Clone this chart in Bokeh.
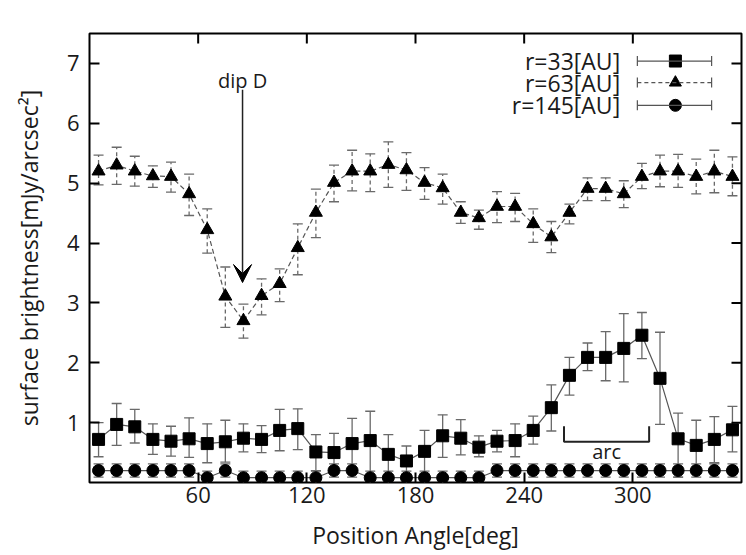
import math
from bokeh.plotting import figure
from bokeh.models import (ColumnDataSource, Whisker, TeeHead, FixedTicker,
                          Range1d, Arrow, VeeHead, Label, BoxAnnotation, Span)
from bokeh.embed import file_html
from bokeh.resources import INLINE

# ---------------- data ----------------
angle = [5, 15, 25, 35, 45, 55, 65, 75, 85, 95, 105, 115, 125, 135, 145, 155, 165, 175,
         185, 195, 205, 215, 225, 235, 245, 255, 265, 275, 285, 295, 305, 315, 325, 335, 345, 355]

r33 = [0.72, 0.97, 0.93, 0.72, 0.69, 0.73, 0.65, 0.68, 0.74, 0.72, 0.87, 0.90, 0.51, 0.50, 0.65, 0.70, 0.47, 0.36,
       0.52, 0.78, 0.74, 0.59, 0.69, 0.70, 0.87, 1.25, 1.79, 2.09, 2.09, 2.24, 2.46, 1.74, 0.73, 0.62, 0.72, 0.88]
r33_hi = [1.00, 1.32, 1.22, 0.98, 0.94, 1.08, 0.98, 1.04, 0.98, 0.95, 1.22, 1.23, 0.80, 0.82, 1.07, 1.19, 0.80, 0.61,
          0.87, 1.13, 1.05, 0.78, 0.87, 0.98, 1.11, 1.63, 2.09, 2.33, 2.52, 2.82, 2.84, 2.51, 1.16, 1.04, 1.10, 1.27]
r33_lo = [0.43, 0.62, 0.66, 0.47, 0.44, 0.42, 0.33, 0.34, 0.51, 0.50, 0.53, 0.55, 0.20, 0.20, 0.23, 0.09, 0.12, 0.14,
          0.15, 0.42, 0.46, 0.43, 0.51, 0.43, 0.64, 0.86, 1.46, 1.87, 1.70, 1.68, 2.07, 0.97, 0.09, 0.23, 0.33, 0.51]

r63 = [5.20, 5.30, 5.20, 5.12, 5.11, 4.82, 4.22, 3.11, 2.70, 3.12, 3.32, 3.92, 4.51, 5.01, 5.20, 5.20, 5.31, 5.22,
       5.01, 4.92, 4.51, 4.42, 4.61, 4.61, 4.32, 4.10, 4.51, 4.91, 4.91, 4.82, 5.11, 5.20, 5.20, 5.11, 5.20, 5.11]
r63_hi = [5.47, 5.60, 5.45, 5.29, 5.35, 5.15, 4.57, 3.60, 2.98, 3.40, 3.57, 4.32, 4.90, 5.30, 5.55, 5.49, 5.69, 5.51,
          5.26, 5.15, 4.69, 4.55, 4.86, 4.83, 4.57, 4.36, 4.65, 5.09, 5.09, 5.04, 5.33, 5.47, 5.48, 5.40, 5.55, 5.44]
r63_lo = [4.97, 4.98, 4.95, 4.93, 4.85, 4.46, 3.83, 2.59, 2.41, 2.80, 3.02, 3.47, 4.09, 4.69, 4.87, 4.86, 4.93, 4.88,
          4.73, 4.65, 4.33, 4.23, 4.34, 4.36, 4.01, 3.84, 4.32, 4.71, 4.71, 4.59, 4.91, 4.94, 4.93, 4.82, 4.84, 4.79]

r145 = [0.20, 0.20, 0.20, 0.20, 0.20, 0.20, 0.08, 0.20, 0.08, 0.08, 0.08, 0.08, 0.08, 0.20, 0.20, 0.08, 0.08, 0.08,
        0.08, 0.08, 0.08, 0.08, 0.20, 0.20, 0.20, 0.20, 0.20, 0.20, 0.20, 0.20, 0.20, 0.20, 0.20, 0.20, 0.20, 0.20]
r145_err = [0.11] * 36

series_labels = ["r=33[AU]", "r=63[AU]", "r=145[AU]"]
x_ticks = [60, 120, 180, 240, 300]
y_ticks = [1, 2, 3, 4, 5, 6, 7]
X_MIN, X_MAX, Y_MIN, Y_MAX = 0, 360, 0, 7.5

# annotations
dip_text = "dip D"
dip_x, dip_text_y, dip_start_y, dip_end_y = 84.5, 6.72, 6.56, 3.34
arc_text = "arc"
arc_x0, arc_x1, arc_ylow, arc_yhigh, arc_text_y = 262, 309, 0.68, 0.94, 0.51

# legend placement (data units)
leg_text_x = 293
leg_x0, leg_xm, leg_x1 = 302.5, 323.5, 343.5
leg_y = [7.04, 6.68, 6.30]

FONT = "Open Sans"
TXT = "#1a1a1a"
GRAY = "#555555"
EGRAY = "#6a6a6a"

p = figure(width=744, height=553, x_range=Range1d(X_MIN, X_MAX), y_range=Range1d(Y_MIN, Y_MAX),
           output_backend="svg", toolbar_location=None,
           min_border_left=89, min_border_right=3, min_border_top=33, min_border_bottom=71)
p.grid.visible = False
p.outline_line_color = "black"
p.outline_line_width = 2
p.background_fill_color = "white"
p.border_fill_color = "white"

# thin page header strip seen at the top of the reference picture
p.add_layout(BoxAnnotation(left=0, right=744, top=0, bottom=7, left_units="canvas", right_units="canvas",
                           top_units="canvas", bottom_units="canvas", fill_color="#eff9fb", fill_alpha=1,
                           line_color=None, level="overlay"))
p.add_layout(BoxAnnotation(left=0, right=744, top=7, bottom=9, left_units="canvas", right_units="canvas",
                           top_units="canvas", bottom_units="canvas", fill_color="#45a8a4", fill_alpha=1,
                           line_color=None, level="overlay"))

p.xaxis.axis_label = "Position Angle[deg]"
p.yaxis.axis_label = "surface brightness[mJy/arcsec\u00b2]"
p.xaxis.ticker = FixedTicker(ticks=x_ticks)
p.yaxis.ticker = FixedTicker(ticks=y_ticks)

for ax in p.axis:
    ax.major_tick_in = 10
    ax.major_tick_out = 0
    ax.minor_tick_in = 0
    ax.minor_tick_out = 0
    ax.major_tick_line_color = "black"
    ax.major_tick_line_width = 2
    ax.axis_line_color = None
    ax.major_label_text_font = FONT
    ax.major_label_text_font_size = "22px"
    ax.major_label_text_color = TXT
    ax.axis_label_text_font = FONT
    ax.axis_label_text_font_size = "23px"
    ax.axis_label_text_font_style = "normal"
    ax.axis_label_text_color = TXT

p.xaxis.major_label_standoff = 4
p.xaxis.axis_label_standoff = 13
p.yaxis.major_label_standoff = 10
p.yaxis.axis_label_standoff = 19

# mirrored inward ticks on the top and right edges
p.ray(x=[X_MAX] * len(y_ticks), y=y_ticks, length=10, length_units="screen", angle=math.pi,
      line_color="black", line_width=2)
p.ray(x=x_ticks, y=[Y_MAX] * len(x_ticks), length=10, length_units="screen", angle=-math.pi / 2,
      line_color="black", line_width=2)

src33 = ColumnDataSource(dict(x=angle, y=r33, hi=r33_hi, lo=r33_lo))
src63 = ColumnDataSource(dict(x=angle, y=r63, hi=r63_hi, lo=r63_lo))
src145 = ColumnDataSource(dict(x=angle, y=r145,
                               hi=[a + b for a, b in zip(r145, r145_err)],
                               lo=[a - b for a, b in zip(r145, r145_err)]))

def whisk(src, dash="solid"):
    w = Whisker(source=src, base="x", upper="hi", lower="lo", dimension="height",
                line_color=EGRAY, line_width=1.3, line_dash=dash,
                upper_head=TeeHead(size=10, line_color=EGRAY, line_width=1.3),
                lower_head=TeeHead(size=10, line_color=EGRAY, line_width=1.3))
    w.level = "underlay"
    p.add_layout(w)

whisk(src33)
whisk(src63, "4 3")
whisk(src145)

p.line("x", "y", source=src33, line_color=GRAY, line_width=1.2)
p.line("x", "y", source=src63, line_color=GRAY, line_width=1.2, line_dash="5 3")
p.line("x", "y", source=src145, line_color=GRAY, line_width=1.2)

p.scatter("x", "y", source=src33, marker="square", size=12, fill_color="black", line_color="black")
p.scatter("x", "y", source=src63, marker="triangle", size=13, fill_color="black", line_color="black")
p.scatter("x", "y", source=src145, marker="circle", size=12, fill_color="black", line_color="black")

# dip D arrow
p.add_layout(Label(x=dip_x, y=dip_text_y, text=dip_text, text_align="center", text_baseline="middle",
                   text_font=FONT, text_font_size="20px", text_color=TXT))
p.add_layout(Arrow(x_start=dip_x, y_start=dip_start_y, x_end=dip_x, y_end=dip_end_y,
                   line_color="#222222", line_width=1.5,
                   end=VeeHead(size=18, fill_color="black", line_color="black")))

# arc bracket
p.line([arc_x0, arc_x0, arc_x1, arc_x1], [arc_yhigh, arc_ylow, arc_ylow, arc_yhigh],
       line_color="#222222", line_width=2)
p.add_layout(Label(x=(arc_x0 + arc_x1) / 2, y=arc_text_y, text=arc_text, text_align="center",
                   text_baseline="middle", text_font=FONT, text_font_size="20px", text_color=TXT))

# legend
markers = ["square", "triangle", "circle"]
dashes = ["solid", "4 3", "solid"]
for lab, yy, mk, ds in zip(series_labels, leg_y, markers, dashes):
    p.add_layout(Label(x=leg_text_x, y=yy, text=lab, text_align="right", text_baseline="middle",
                       text_font=FONT, text_font_size="23px", text_color=TXT))
    p.add_layout(Arrow(x_start=leg_x0, y_start=yy, x_end=leg_x1, y_end=yy,
                       line_color=GRAY, line_width=1.2, line_dash=ds,
                       start=TeeHead(size=10, line_color=GRAY, line_width=1.2),
                       end=TeeHead(size=10, line_color=GRAY, line_width=1.2)))
    p.scatter([leg_xm], [yy], marker=mk, size=12, fill_color="black", line_color="black")

open("out.html", "w").write(file_html(p, INLINE))
